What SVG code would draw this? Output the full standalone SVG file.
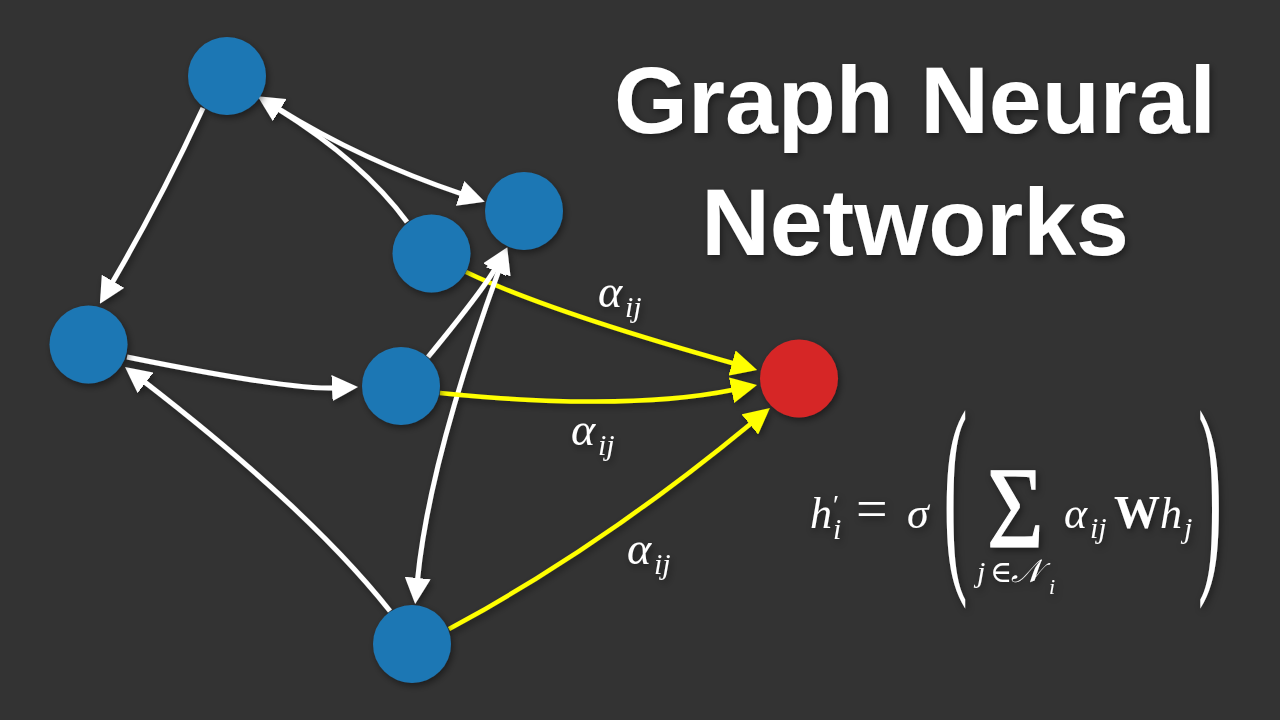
<svg xmlns="http://www.w3.org/2000/svg" width="1280" height="720" viewBox="0 0 1280 720">
  <defs>
    <filter id="sh" x="-30%" y="-30%" width="160%" height="160%">
      <feDropShadow dx="2" dy="3" stdDeviation="3.5" flood-color="#000" flood-opacity="0.45"/>
    </filter>
    <marker id="hw" viewBox="0 -13 26 26" refX="2" refY="0" markerWidth="26" markerHeight="26" markerUnits="userSpaceOnUse" orient="auto-start-reverse">
      <path d="M0,-13 L26,0 L0,13 z" fill="#ffffff"/>
    </marker>
    <marker id="hy" viewBox="0 -13 26 26" refX="2" refY="0" markerWidth="26" markerHeight="26" markerUnits="userSpaceOnUse" orient="auto-start-reverse">
      <path d="M0,-13 L26,0 L0,13 z" fill="#ffff00"/>
    </marker>
    <style>
      .bg{fill:#333333}
      .node{fill:#1f77b4}
      .target{fill:#d62728}
      .edge{fill:none;stroke:#ffffff;stroke-width:5;marker-end:url(#hw)}
      .yedge{fill:none;stroke:#ffff00;stroke-width:4.5;marker-end:url(#hy)}
      .title{font-family:"Liberation Sans",Arial,sans-serif;font-weight:bold;font-size:95px;fill:#ffffff;text-anchor:middle}
      .m{font-family:"Liberation Serif","DejaVu Serif",serif;fill:#ffffff}
      .it{font-style:italic}
    </style>
  </defs>
  <rect class="bg" x="0" y="0" width="1280" height="720"/>

  <g id="connectors" filter="url(#sh)">
    <path class="yedge" d="M466,272 Q548.6,311.5 734,363.5"/>
    <path class="edge" d="M203,108 Q161,199 112,283"/>
    <path class="edge" d="M279,109 Q361,160 462,194"/>
    <path class="edge" d="M407,222 Q363,162 278,109"/>
    <path class="edge" d="M127,357 Q290,390 334,388"/>
    <path class="edge" d="M390,611 Q309,509 144,381.6"/>
    <path class="edge" d="M428,357 Q483,290 495.5,268"/>
    <path class="edge" style="marker-start:url(#hw)" d="M417.5,580 Q429,462 499,270"/>
    <path class="yedge" d="M440,393 Q626,411.7 733.5,389.8"/>
    <path class="yedge" d="M449,629 Q600,548 751.4,423.2"/>
  </g>

  <g id="node-a" filter="url(#sh)"><circle class="node" cx="227" cy="76" r="39"/></g>
  <g id="node-b" filter="url(#sh)"><circle class="node" cx="524" cy="211" r="39"/></g>
  <g id="node-c" filter="url(#sh)"><circle class="node" cx="431.5" cy="253.5" r="39"/></g>
  <g id="node-d" filter="url(#sh)"><circle class="node" cx="88.5" cy="344.5" r="39"/></g>
  <g id="node-e" filter="url(#sh)"><circle class="node" cx="401" cy="386" r="39"/></g>
  <g id="node-f" filter="url(#sh)"><circle class="node" cx="412" cy="644" r="39"/></g>
  <g id="node-target" filter="url(#sh)"><circle class="target" cx="799" cy="378.5" r="39"/></g>

  <g id="labels" filter="url(#sh)">
    <text class="m it" x="598" y="307" font-size="46">α<tspan x="625" y="317" font-size="30">ij</tspan></text>
    <text class="m it" x="571" y="445" font-size="46">α<tspan x="598" y="455" font-size="30">ij</tspan></text>
    <text class="m it" x="627" y="564" font-size="46">α<tspan x="654" y="574" font-size="30">ij</tspan></text>
  </g>

  <g id="title" filter="url(#sh)">
    <text class="title" x="915" y="133">Graph Neural</text>
    <text class="title" x="915" y="255">Networks</text>
  </g>

  <g id="formula" filter="url(#sh)">
    <text class="m it" x="810" y="528" font-size="44">h<tspan class="m" font-style="normal" x="833" y="514" font-size="28">′</tspan><tspan x="833" y="539" font-size="30">i</tspan></text>
    <text class="m" x="856" y="528" font-size="56">=</text>
    <text class="m it" x="907" y="528" font-size="44">σ</text>
    <text class="m" transform="translate(943.5,562) scale(0.33,1)" x="0" y="0" font-size="218">(</text>
    <text class="m" transform="translate(987,547) scale(0.84,1)" x="0" y="0" font-size="116" stroke="#ffffff" stroke-width="1.2">Σ</text>
    <text class="m it" x="977" y="582" font-size="30">j<tspan font-style="normal" x="990">∈</tspan><tspan x="1011" font-size="32">𝒩</tspan><tspan x="1049" y="594" font-size="22">i</tspan></text>
    <text class="m it" x="1064" y="528" font-size="44">α<tspan x="1090" y="538" font-size="30">ij</tspan></text>
    <text class="m" x="1114" y="528" font-size="46" font-weight="bold">W</text>
    <text class="m it" x="1160" y="528" font-size="44">h<tspan x="1184" y="538" font-size="30">j</tspan></text>
    <text class="m" transform="translate(1198,562) scale(0.33,1)" x="0" y="0" font-size="218">)</text>
  </g>
</svg>
